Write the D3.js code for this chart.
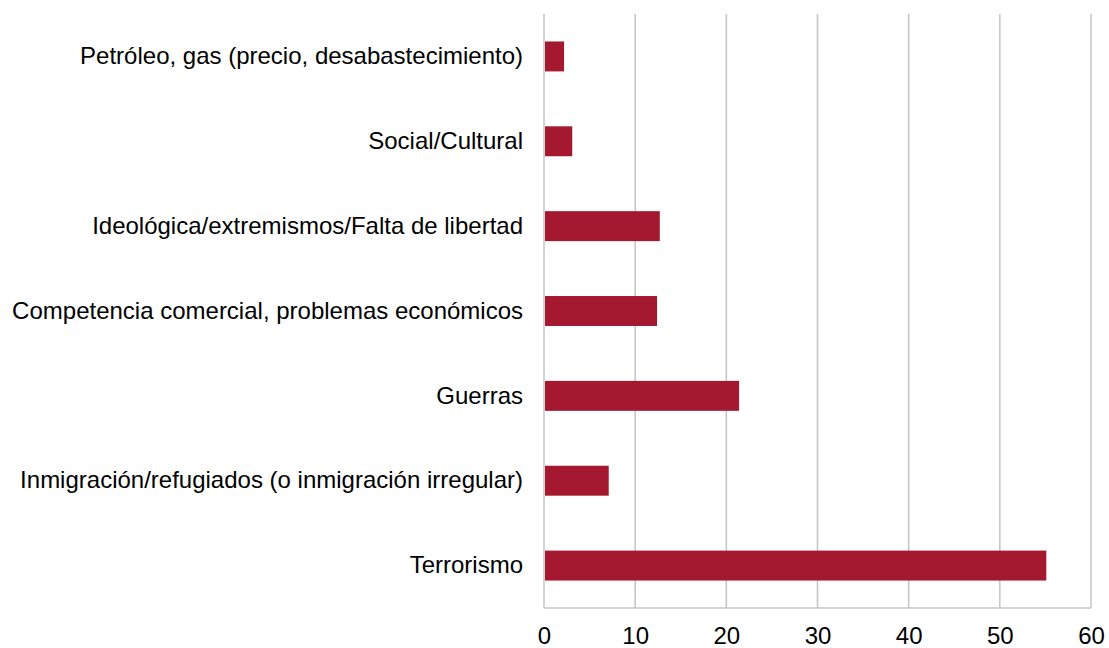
<!DOCTYPE html>
<html><head><meta charset="utf-8">
<script src="https://cdn.jsdelivr.net/npm/d3@7"></script>
<style>body{margin:0;background:#fff}svg{display:block}text{font-family:"Liberation Sans",Arial,sans-serif}</style>
</head><body><svg id="c" width="1109" height="648"></svg>
<script>
const categories = ["Petróleo, gas (precio, desabastecimiento)","Social/Cultural","Ideológica/extremismos/Falta de libertad","Competencia comercial, problemas económicos","Guerras","Inmigración/refugiados (o inmigración irregular)","Terrorismo"];
const values = [2.2, 3.1, 12.7, 12.4, 21.4, 7.1, 55.1];
const xTicks = [0,10,20,30,40,50,60];

(function(){
const svg = d3.select("#c");
const mLeft = 544, mRight = 1091, mTop = 14, mBottom = 608;
const x = d3.scaleLinear().domain([0,60]).range([mLeft,mRight]);
const y = d3.scaleBand().domain(categories).range([mTop,mBottom]).paddingInner(0.647).paddingOuter(0.3235);

svg.append("g").selectAll("line").data(xTicks).join("line")
  .attr("x1",d=>x(d)).attr("x2",d=>x(d)).attr("y1",mTop).attr("y2",mBottom)
  .attr("stroke","#c4c4c4").attr("stroke-width",1.5);
svg.append("line").attr("x1",mLeft).attr("x2",mRight).attr("y1",mBottom).attr("y2",mBottom)
  .attr("stroke","#c4c4c4").attr("stroke-width",1.5);

svg.append("g").selectAll("rect").data(values).join("rect")
  .attr("x",x(0)+1).attr("y",(d,i)=>y(categories[i]))
  .attr("width",d=>x(d)-x(0)-1).attr("height",y.bandwidth())
  .attr("fill","#a51930");

const xa = d3.axisBottom(x).tickValues(xTicks).tickSize(0).tickPadding(19);
const gx = svg.append("g").attr("transform",`translate(0,${mBottom})`).call(xa);
gx.select(".domain").remove();
gx.selectAll("text").attr("font-size",24).attr("fill","#000").attr("font-family","Liberation Sans, Arial, sans-serif");

const ya = d3.axisLeft(y).tickSize(0).tickPadding(21);
const gy = svg.append("g").attr("transform",`translate(${mLeft},0)`).call(ya);
gy.select(".domain").remove();
gy.selectAll("text").attr("font-size",24).attr("fill","#000").attr("font-family","Liberation Sans, Arial, sans-serif");
})();
</script></body></html>
